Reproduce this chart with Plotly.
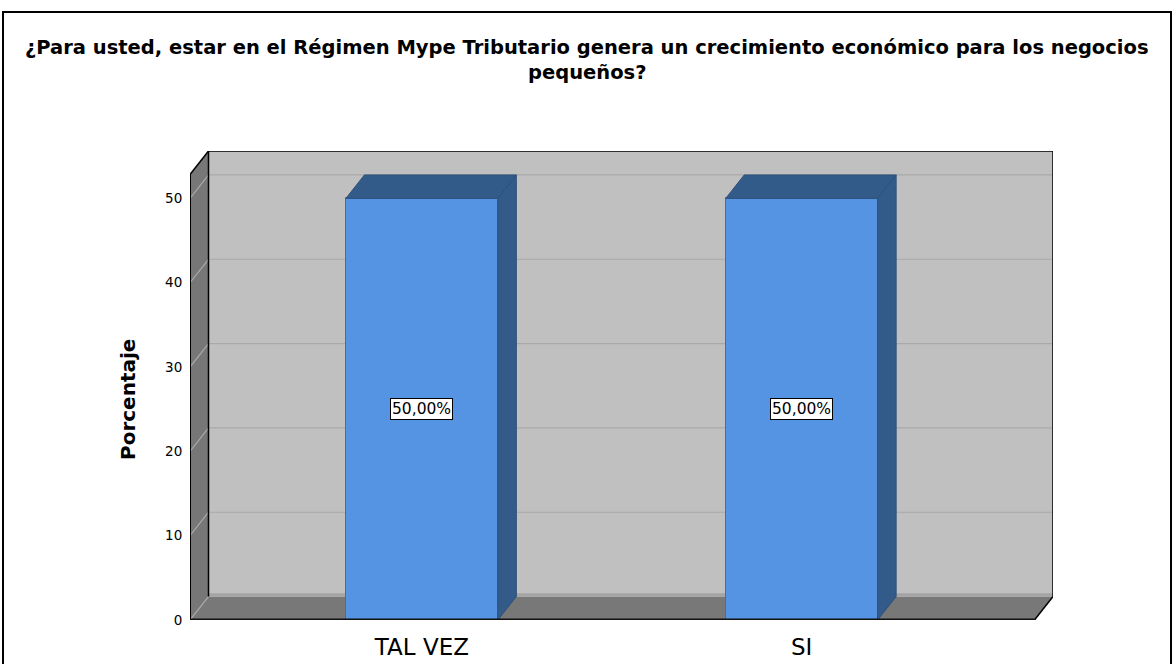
import plotly.graph_objects as go

# ---- data ----
categories = ["TAL VEZ", "SI"]
percentages = [50.0, 50.0]
y_ticks = [0, 10, 20, 30, 40, 50]
title_lines = ["¿Para usted, estar en el Régimen Mype Tributario genera un crecimiento económico para los negocios",
               "pequeños?"]
y_title = "Porcentaje"

# ---- geometry (data units) ----
X0, X1 = -0.6105, 1.613      # front plane left/right
DX, DY = 0.0487, 2.78        # depth offset of the pseudo-3D box
YF = 52.84                   # front top of the box
BW = 0.4                     # bar width

W, H = 1174, 664
ML, MR, MT, MB = 190, 121, 151, 44
PW, PH = W - ML - MR, H - MT - MB
FONT = "DejaVu Sans, Verdana, sans-serif"

def pxx(px):
    return (px - ML) / PW

def pyy(py):
    return (H - MB - py) / PH

C_WALL = "#C0C0C0"
C_SIDE = "#777777"
C_FLOOR = "#787878"
C_GRID = "#A9A9A9"
C_BAR = "#5594E2"
C_BAR_DARK = "#335B8A"

xs = list(range(len(categories)))

fig = go.Figure()
fig.add_trace(go.Bar(
    x=xs, y=percentages, width=BW,
    marker=dict(color=C_BAR, line=dict(color="#4A6E98", width=1)),
    hoverinfo="skip", showlegend=False,
))

shapes = []

def poly(pts, fill, line_color=None, lw=0, layer="below"):
    d = "M " + " L ".join(f"{x},{y}" for x, y in pts) + " Z"
    return dict(type="path", path=d, xref="x", yref="y", fillcolor=fill,
                line=dict(color=line_color or fill, width=lw), layer=layer)

def seg(x0, y0, x1, y1, color, lw, layer="below"):
    return dict(type="line", x0=x0, y0=y0, x1=x1, y1=y1, xref="x", yref="y",
                line=dict(color=color, width=lw), layer=layer)

# back wall
shapes.append(poly([(X0 + DX, DY), (X1 + DX, DY), (X1 + DX, YF + DY), (X0 + DX, YF + DY)], C_WALL))
# side wall
shapes.append(poly([(X0, 0), (X0 + DX, DY), (X0 + DX, YF + DY), (X0, YF)], C_SIDE))
# floor
shapes.append(poly([(X0, 0), (X1, 0), (X1 + DX, DY), (X0 + DX, DY)], C_FLOOR))
# floor back edge highlight
shapes.append(seg(X0 + DX, DY + 0.2, X1 + DX, DY + 0.2, "#A4A4A4", 3))
# gridlines
for v in y_ticks:
    shapes.append(seg(X0, v, X0 + DX, v + DY, C_GRID, 1.2))
    if v > 0:
        shapes.append(seg(X0 + DX, v + DY, X1 + DX, v + DY, C_GRID, 1.2))
# box outline
shapes.append(seg(X0, 0, X0, YF, "black", 2))
shapes.append(seg(X0, YF, X0 + DX, YF + DY, "black", 1.5))
shapes.append(seg(X0 + DX, YF + DY, X1 + DX, YF + DY, "black", 1.5))
shapes.append(seg(X0 + DX, DY, X0 + DX, YF + DY, "black", 1.5))
shapes.append(seg(X1 + DX, DY, X1 + DX, YF + DY, "black", 1.5))
shapes.append(seg(X1, 0, X1 + DX, DY, "black", 1.5))
# bar top & side faces
for x, v in zip(xs, percentages):
    l, r = x - BW / 2, x + BW / 2
    shapes.append(poly([(l, v), (r, v), (r + DX, v + DY), (l + DX, v + DY)], C_BAR_DARK, "#2E5078", 1, "above"))
    shapes.append(poly([(r, 0), (r + DX, DY), (r + DX, v + DY), (r, v)], C_BAR_DARK, "#2E5078", 1, "above"))
# front bottom edge
shapes.append(seg(X0, 0, X1, 0, "#111111", 3, "above"))
# outer chart frame
shapes.append(dict(type="rect", xref="paper", yref="paper",
                   x0=pxx(3), x1=pxx(1171), y0=pyy(700), y1=pyy(12),
                   line=dict(color="black", width=2), fillcolor="rgba(0,0,0,0)"))

annotations = []
for i, line in enumerate(title_lines):
    annotations.append(dict(
        text=f"<b>{line}</b>", x=pxx(587), y=pyy(48 + 24 * i), xref="paper", yref="paper",
        showarrow=False, xanchor="center", yanchor="middle",
        font=dict(family=FONT, size=19.5, color="black")))
annotations.append(dict(
    text=f"<b>{y_title}</b>", x=pxx(128), y=pyy(400), xref="paper", yref="paper",
    showarrow=False, textangle=-90, xanchor="center", yanchor="middle",
    font=dict(family=FONT, size=20, color="black")))
for x, v in zip(xs, percentages):
    annotations.append(dict(
        text=f"{v:.2f}%".replace(".", ","), x=x, y=v / 2, xref="x", yref="y",
        showarrow=False, bgcolor="white", bordercolor="black", borderwidth=1, borderpad=1,
        font=dict(family=FONT, size=15.5, color="black")))

fig.update_layout(
    width=W, height=H,
    margin=dict(l=ML, r=MR, t=MT, b=MB, autoexpand=False),
    paper_bgcolor="white", plot_bgcolor="white",
    shapes=shapes, annotations=annotations,
    bargap=0,
    xaxis=dict(range=[X0, X1 + DX], tickvals=xs, ticktext=categories,
               showgrid=False, zeroline=False, showline=False, automargin=False,
               ticks="outside", ticklen=6, tickcolor="rgba(0,0,0,0)",
               tickfont=dict(family=FONT, size=23, color="black"),
               fixedrange=True),
    yaxis=dict(range=[0, YF + DY], tickvals=y_ticks,
               showgrid=False, zeroline=False, showline=False, automargin=False,
               ticks="outside", ticklen=4, tickcolor="rgba(0,0,0,0)",
               tickfont=dict(family=FONT, size=13.5, color="black"),
               fixedrange=True),
    font=dict(family=FONT),
)

fig.write_html("out.html", post_script="document.body.style.margin='0';",
               config={"displayModeBar": False})
